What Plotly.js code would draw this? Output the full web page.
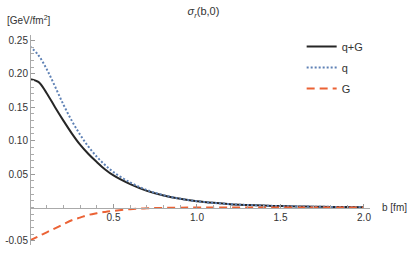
<!DOCTYPE html>
<html>
<head>
<meta charset="utf-8">
<script src="https://cdn.plot.ly/plotly-3.0.1.min.js"></script>
<style>html,body{margin:0;padding:0;background:#fff;}#chart{width:407px;height:254px;}</style>
</head>
<body>
<div id="chart"></div>
<script>
const b = [0,0.05,0.1,0.15,0.2,0.25,0.3,0.35,0.4,0.45,0.5,0.6,0.7,0.8,0.9,1.0,1.1,1.2,1.3,1.4,1.5,1.6,1.7,1.8,1.9,2.0];
const sumQG = [0.192,0.188,0.171,0.150,0.130,0.111,0.094,0.080,0.068,0.057,0.048,0.035,0.025,0.018,0.013,0.0095,0.007,0.005,0.0038,0.0029,0.0022,0.0017,0.0013,0.001,0.0008,0.0006];
const quark = [0.241,0.228,0.207,0.181,0.154,0.130,0.109,0.091,0.076,0.0635,0.053,0.0375,0.0262,0.0185,0.0132,0.0095,0.007,0.005,0.0038,0.0029,0.0022,0.0017,0.0013,0.001,0.0008,0.0006];
const gluon = [-0.049,-0.043,-0.037,-0.031,-0.025,-0.019,-0.015,-0.011,-0.0085,-0.0065,-0.005,-0.0025,-0.0012,-0.0005,-0.0002,0,0,0,0,0,0,0,0,0,0,0];
const seriesNames = ['q+G','q','G'];
const xTickVals = [0.5,1.0,1.5,2.0];
const xTickText = ['0.5','1.0','1.5','2.0'];
const yTickVals = [0.25,0.20,0.15,0.10,0.05,-0.05];
const yTickText = ['0.25','0.20','0.15','0.10','0.05','-0.05'];
const xRange = [0, 2.036];
const yRange = [-0.056, 0.258];

const traces = [
  {x:b, y:sumQG, name:seriesNames[0], mode:'lines', line:{color:'#262626', width:2, shape:'spline'}},
  {x:b, y:quark, name:seriesNames[1], mode:'lines', line:{color:'#5E81B5', width:2, dash:'2px,2px', shape:'spline'}},
  {x:b, y:gluon, name:seriesNames[2], mode:'lines', line:{color:'#EB6235', width:2, dash:'8px,5px', shape:'spline'}}
];
const axisFont = {family:'Arial, "Liberation Sans", sans-serif', size:10, color:'#333'};
const zeroPos = (0 - yRange[0]) / (yRange[1] - yRange[0]);
const layout = {
  width:407, height:254,
  margin:{l:30, r:37, t:35, b:9},
  paper_bgcolor:'#fff', plot_bgcolor:'#fff',
  font:{family:'Arial, "Liberation Sans", sans-serif', color:'#333'},
  title:{text:'<i>σ<sub>r</sub></i>(b,0)', font:{size:11, color:'#333'}, x:0.5, xref:'container', y:0.955, yanchor:'middle'},
  showlegend:true,
  legend:{x:0.799, xanchor:'left', y:1.014, yanchor:'top', font:{size:11, color:'#333'}, bgcolor:'rgba(0,0,0,0)', tracegroupgap:2},
  xaxis:{range:xRange, anchor:'free', position:zeroPos, showline:true, linecolor:'#aaa', linewidth:1,
    showgrid:false, zeroline:false, tickmode:'array', tickvals:xTickVals, ticktext:xTickText,
    ticks:'inside', ticklen:4, tickcolor:'#999', tickfont:axisFont, automargin:false,
    minor:{tickmode:'linear', tick0:0, dtick:0.1, ticks:'inside', ticklen:2.5, tickcolor:'#aaa', showgrid:false}},
  yaxis:{range:yRange, anchor:'free', position:0, showline:true, linecolor:'#aaa', linewidth:1,
    showgrid:false, zeroline:false, tickmode:'array', tickvals:yTickVals, ticktext:yTickText,
    ticks:'inside', ticklen:4, tickcolor:'#999', tickfont:axisFont, automargin:false,
    minor:{tickmode:'linear', tick0:0, dtick:0.01, ticks:'inside', ticklen:2.5, tickcolor:'#aaa', showgrid:false}},
  annotations:[
    {text:'[GeV/fm<sup>2</sup>]', xref:'paper', yref:'paper', x:-0.074, y:1.071, xanchor:'left', yanchor:'middle', showarrow:false, font:axisFont},
    {text:'b [fm]', xref:'paper', yref:'y', x:1.029, y:0, xanchor:'left', yanchor:'middle', showarrow:false, font:axisFont}
  ]
};
traces.forEach((t,i)=>{t.legendgroup='g'+i;});
Plotly.newPlot('chart', traces, layout, {staticPlot:true, displayModeBar:false});
</script>
</body>
</html>
